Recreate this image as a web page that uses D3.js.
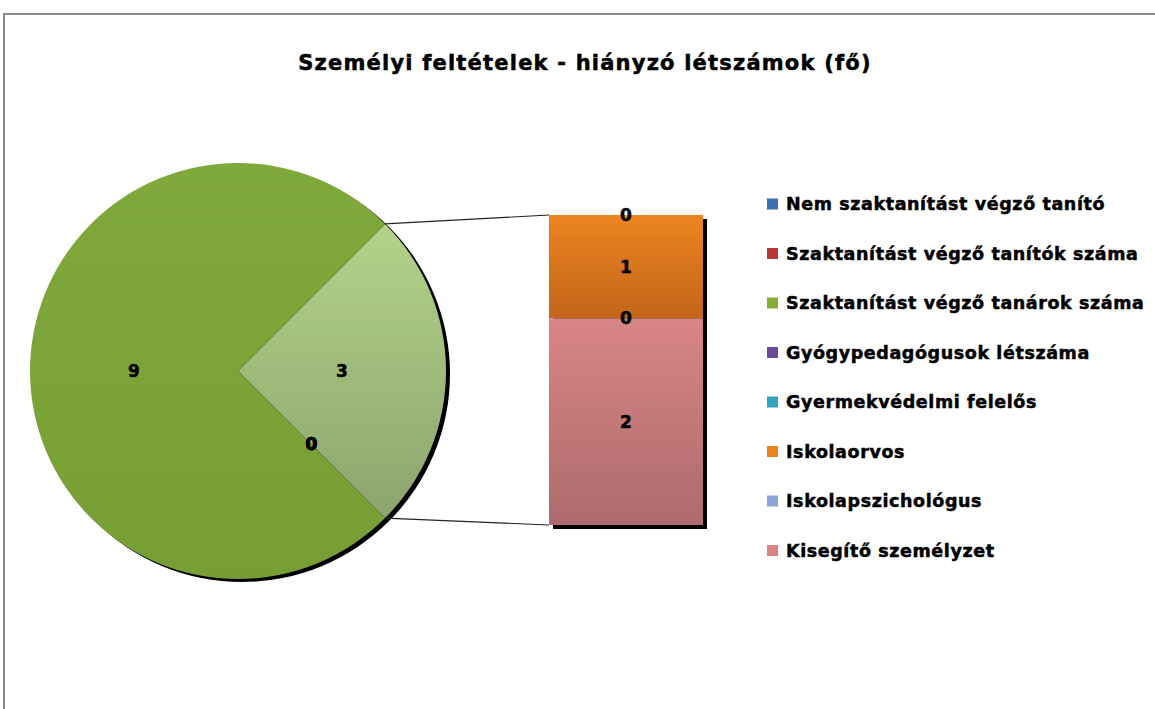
<!DOCTYPE html>
<html>
<head>
<meta charset="utf-8">
<script src="https://cdn.jsdelivr.net/npm/d3@7"></script>
<style>
  body { margin: 0; background: #fff; }
  text { font-family: "DejaVu Sans", sans-serif; font-weight: bold; fill: #000; stroke: #000; stroke-width: 0.5px; }
</style>
</head>
<body>
<div id="chart"></div>
<script>
// Data
const title = "Személyi feltételek - hiányzó létszámok (fő)";
const categories = [
    "Nem szaktanítást végző tanító",
    "Szaktanítást végző tanítók száma",
    "Szaktanítást végző tanárok száma",
    "Gyógypedagógusok létszáma",
    "Gyermekvédelmi felelős",
    "Iskolaorvos",
    "Iskolapszichológus",
    "Kisegítő személyzet"
];
const values = [0, 0, 9, 0, 0, 1, 0, 2];
const colors = ["#3b6db4", "#b53a36", "#86ad3c", "#6a4a98", "#35a2c0", "#e9821f", "#8ca2d8", "#d98585"];
const secondPlotCount = 4; // last points are shown in the bar

const width = 1155, height = 709;
const svg = d3.select("#chart").append("svg")
    .attr("width", width)
    .attr("height", height);

const defs = svg.append("defs");
function vGrad(id, top, bottom) {
    const g = defs.append("linearGradient").attr("id", id)
        .attr("x1", 0).attr("y1", 0).attr("x2", 0).attr("y2", 1);
    g.append("stop").attr("offset", "0%").attr("stop-color", top);
    g.append("stop").attr("offset", "100%").attr("stop-color", bottom);
}
vGrad("g-main", "#82ab3e", "#789f35");
vGrad("g-other", "#b2d389", "#8da46e");
vGrad("g-0", "#3b6db4", "#335f9e");
vGrad("g-1", "#b53a36", "#9c302d");
vGrad("g-2", "#80a93c", "#779e34");
vGrad("g-3", "#6a4a98", "#5a3e84");
vGrad("g-4", "#35a2c0", "#2d8ba6");
vGrad("g-5", "#ec8420", "#c3661b");
vGrad("g-6", "#8ca2d8", "#7a8fc0");
vGrad("g-7", "#d98585", "#ad6b6d");

// chart border
svg.append("path")
    .attr("d", `M4,${height} V14 H${width}`)
    .attr("fill", "none")
    .attr("stroke", "#8a8a8a")
    .attr("stroke-width", 2);

// title
svg.append("text")
    .attr("x", 585)
    .attr("y", 70)
    .attr("text-anchor", "middle")
    .style("font-size", "21px")
    .style("letter-spacing", "1.2px")
    .text(title);

// ----- pie -----
const cx = 238, cy = 371, r = 208;
const firstCount = values.length - secondPlotCount;
const otherTotal = d3.sum(values.slice(firstCount));
const pieItems = categories.slice(0, firstCount).map((c, i) => ({ key: c, value: values[i], idx: i }));
pieItems.unshift({ key: "other", value: otherTotal, idx: -1 });

const otherAngle = otherTotal / d3.sum(values) * 2 * Math.PI;
const pie = d3.pie()
    .value(d => d.value)
    .sort((a, b) => (a.idx === -1 ? -1 : b.idx === -1 ? 1 : a.value - b.value))
    .startAngle(Math.PI / 2 - otherAngle / 2)
    .endAngle(Math.PI / 2 - otherAngle / 2 + 2 * Math.PI);
const arcs = pie(pieItems);
const arc = d3.arc().innerRadius(0).outerRadius(r);

const pieG = svg.append("g").attr("transform", `translate(${cx},${cy})`);
pieG.append("circle")
    .attr("cx", 4).attr("cy", 3).attr("r", r)
    .attr("fill", "#000");
pieG.selectAll("path.slice")
    .data(arcs)
    .join("path")
    .attr("class", "slice")
    .attr("d", arc)
    .attr("fill", d => d.data.idx === -1 ? "url(#g-other)" : `url(#g-${d.data.idx})`);

pieG.selectAll("text.lbl")
    .data(arcs)
    .join("text")
    .attr("class", "lbl")
    .attr("transform", d => {
        const a = (d.startAngle + d.endAngle) / 2;
        return `translate(${Math.sin(a) * r * 0.5},${-Math.cos(a) * r * 0.5})`;
    })
    .attr("text-anchor", "middle")
    .attr("dy", "0.35em")
    .style("font-size", "17px")
    .text(d => d.data.value);

// ----- bar of the second plot -----
const barX = 549, barW = 154, barTop = 215, barBottom = 525;
const y = d3.scaleLinear().domain([0, otherTotal]).range([barTop, barBottom]);
let acc = 0;
const segs = categories.slice(firstCount).map((c, i) => {
    const v = values[firstCount + i];
    const s = { key: c, value: v, idx: firstCount + i, y0: acc, y1: acc + v };
    acc += v;
    return s;
});

// connector lines
const a0 = arcs[0];
svg.append("line")
    .attr("x1", cx + Math.sin(a0.startAngle) * r).attr("y1", cy - Math.cos(a0.startAngle) * r)
    .attr("x2", barX).attr("y2", y(0))
    .attr("stroke", "#222").attr("stroke-width", 1.2);
svg.append("line")
    .attr("x1", cx + Math.sin(a0.endAngle) * r).attr("y1", cy - Math.cos(a0.endAngle) * r)
    .attr("x2", barX).attr("y2", y(otherTotal))
    .attr("stroke", "#222").attr("stroke-width", 1.2);

svg.append("rect")
    .attr("x", barX + 4).attr("y", y(0) + 4)
    .attr("width", barW).attr("height", y(otherTotal) - y(0))
    .attr("fill", "#000");
svg.selectAll("rect.seg")
    .data(segs)
    .join("rect")
    .attr("class", "seg")
    .attr("x", barX)
    .attr("y", d => y(d.y0))
    .attr("width", barW)
    .attr("height", d => y(d.y1) - y(d.y0))
    .attr("fill", d => `url(#g-${d.idx})`);
svg.selectAll("text.seglbl")
    .data(segs)
    .join("text")
    .attr("class", "seglbl")
    .attr("x", barX + barW / 2)
    .attr("y", d => y((d.y0 + d.y1) / 2))
    .attr("dy", "0.35em")
    .attr("text-anchor", "middle")
    .style("font-size", "17px")
    .text(d => d.value);

// ----- legend -----
const legend = svg.append("g").attr("transform", "translate(767,204)");
const item = legend.selectAll("g")
    .data(categories)
    .join("g")
    .attr("transform", (d, i) => `translate(0,${i * 49.5})`);
item.append("rect")
    .attr("x", 0).attr("y", -5.5)
    .attr("width", 11).attr("height", 11)
    .attr("fill", (d, i) => colors[i]);
item.append("text")
    .attr("x", 19)
    .attr("dy", "0.35em")
    .style("font-size", "17.5px")
    .style("letter-spacing", "0.6px")
    .text(d => d);
</script>
</body>
</html>
